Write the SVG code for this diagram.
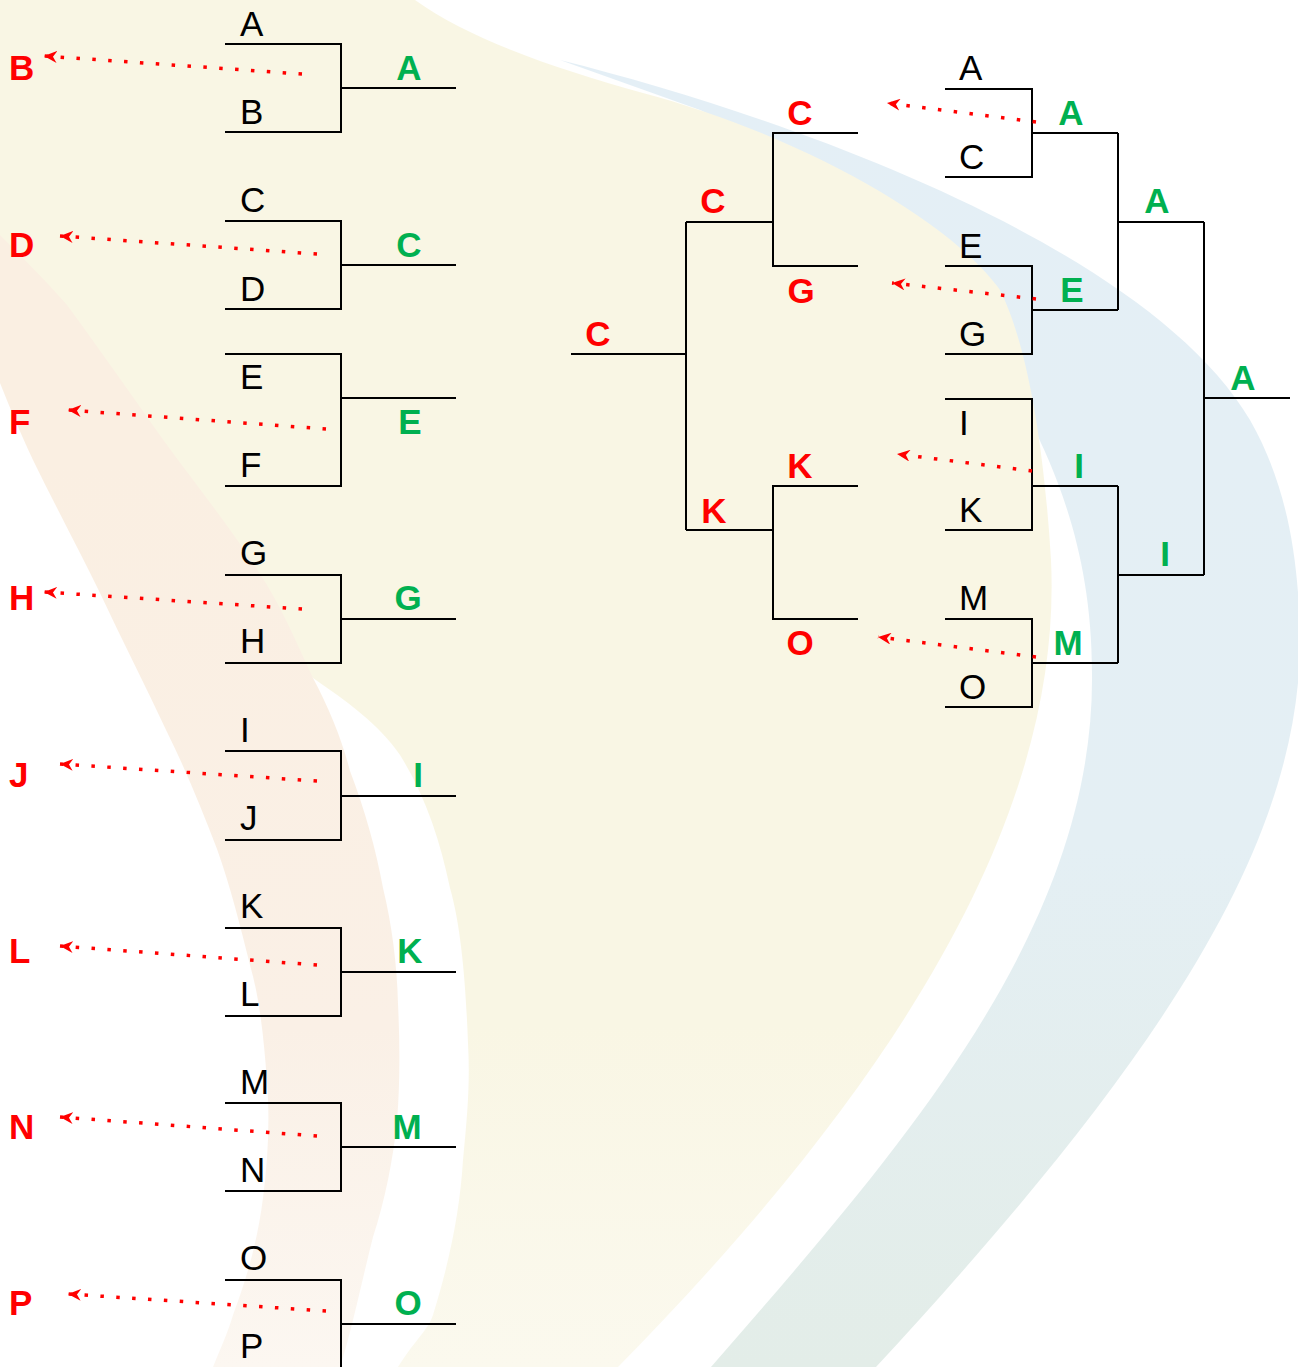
<svg xmlns="http://www.w3.org/2000/svg" width="1298" height="1367" viewBox="0 0 1298 1367">
<style>
.ln{stroke:#000;stroke-width:2;fill:none}
.bk{font-family:"Liberation Sans",Arial,sans-serif;font-size:35px;fill:#000}
.gr{font-family:"Liberation Sans",Arial,sans-serif;font-size:35px;font-weight:bold;fill:#00B050;text-anchor:middle}
.rd{font-family:"Liberation Sans",Arial,sans-serif;font-size:35px;font-weight:bold;fill:#FF0000}
.rdm{font-family:"Liberation Sans",Arial,sans-serif;font-size:35px;font-weight:bold;fill:#FF0000;text-anchor:middle}
.ar{stroke:#FF0000;stroke-width:3.5;stroke-dasharray:3.5 12.4;fill:none;marker-end:url(#ah)}
</style>
<defs>
<marker id="ah" markerUnits="userSpaceOnUse" markerWidth="14" markerHeight="12" refX="13" refY="6" orient="auto">
<path d="M0,0 L13,6 L0,12 L4,6 Z" fill="#FF0000"/>
</marker>
<linearGradient id="gBlue" x1="0" y1="0" x2="0" y2="1">
<stop offset="0" stop-color="#E4EFF6"/>
<stop offset="0.6" stop-color="#E4EFF4"/>
<stop offset="1" stop-color="#E3EDE8"/>
</linearGradient>
<linearGradient id="gBeige" x1="0" y1="0" x2="0" y2="1">
<stop offset="0" stop-color="#F9F6E4"/>
<stop offset="0.75" stop-color="#F9F6E4"/>
<stop offset="1" stop-color="#FBF9EE"/>
</linearGradient>
<linearGradient id="gPeach" x1="0" y1="0" x2="0" y2="1">
<stop offset="0.2" stop-color="#FAEFE2"/>
<stop offset="0.7" stop-color="#FAF0E6"/>
<stop offset="1" stop-color="#FCF7F1"/>
</linearGradient>
</defs>
<rect width="1298" height="1367" fill="#FFFFFF"/>
<g id="background">
<path d="M560,60 C800,120 1150,250 1250,420 C1290,490 1300,570 1300,650 C1295,850 1160,1060 876,1367 L711,1367 C900,1150 1095,930 1092,673 C1092,560 1060,480 1030,420 C1000,330 900,200 700,110 Z" fill="url(#gBlue)"/>
<path d="M0,0 L415,0 C470,40 560,70 643,93 C800,135 950,220 1000,290 C1030,350 1045,460 1051,560 C1062,790 930,1050 618,1367 L398,1367 C415,1340 428,1330 433,1315 C450,1260 460,1210 463,1160 C468,1110 470,1080 468,1043 C466,990 462,930 450,888 C440,840 425,795 400,755 C380,725 345,700 313,678 L0,300 Z" fill="url(#gBeige)"/>
<path d="M0,235 C20,255 45,280 67,305 C100,350 135,400 167,445 C200,490 240,540 267,585 C285,615 300,650 313,678 C330,710 342,740 350,771 C365,810 376,850 383,888 C392,925 397,965 398,1004 C400,1045 400,1085 397,1121 C393,1160 385,1200 373,1237 C362,1280 352,1330 340,1367 L213,1367 C220,1350 228,1332 233,1315 C248,1275 258,1238 263,1198 C268,1160 270,1120 267,1082 C264,1040 260,1000 250,965 C240,925 230,885 217,849 C202,810 186,770 167,732 C145,685 122,640 100,593 C78,548 55,505 33,460 C20,432 10,408 0,383 Z" fill="url(#gPeach)"/>
</g>
<g id="round1-left">
<g id="m-AB"><path class="ln" d="M225,44 H341 V132 H225 M341,88 H456"/><text class="bk" x="240" y="35.5">A</text><text class="bk" x="240" y="124">B</text><text class="gr" x="409" y="80">A</text><text class="rd" x="9" y="80">B</text></g>
<g id="m-CD"><path class="ln" d="M225,221 H341 V309 H225 M341,265 H456"/><text class="bk" x="240" y="212">C</text><text class="bk" x="240" y="301">D</text><text class="gr" x="409" y="256.5">C</text><text class="rd" x="9" y="256.5">D</text></g>
<g id="m-EF"><path class="ln" d="M225,354 H341 V486 H225 M341,398 H456"/><text class="bk" x="240" y="389">E</text><text class="bk" x="240" y="477">F</text><text class="gr" x="410" y="433.5">E</text><text class="rd" x="9" y="433.5">F</text></g>
<g id="m-GH"><path class="ln" d="M225,575 H341 V663 H225 M341,619 H456"/><text class="bk" x="240" y="565">G</text><text class="bk" x="240" y="653">H</text><text class="gr" x="408" y="610">G</text><text class="rd" x="9" y="610">H</text></g>
<g id="m-IJ"><path class="ln" d="M225,751 H341 V840 H225 M341,796 H456"/><text class="bk" x="240" y="742">I</text><text class="bk" x="240" y="830">J</text><text class="gr" x="418" y="786.5">I</text><text class="rd" x="9" y="786.5">J</text></g>
<g id="m-KL"><path class="ln" d="M225,928 H341 V1016 H225 M341,972 H456"/><text class="bk" x="240" y="918">K</text><text class="bk" x="240" y="1006">L</text><text class="gr" x="410" y="962.5">K</text><text class="rd" x="9" y="962.5">L</text></g>
<g id="m-MN"><path class="ln" d="M225,1103 H341 V1191 H225 M341,1147 H456"/><text class="bk" x="240" y="1094">M</text><text class="bk" x="240" y="1182">N</text><text class="gr" x="407" y="1138.5">M</text><text class="rd" x="9" y="1138.5">N</text></g>
<g id="m-OP"><path class="ln" d="M225,1280 H341 V1370 M341,1324 H456"/><text class="bk" x="240" y="1270">O</text><text class="bk" x="240" y="1358">P</text><text class="gr" x="408" y="1314.5">O</text><text class="rd" x="9" y="1314.5">P</text></g>
</g>
<g id="winners-bracket">
<g id="w-AC"><path class="ln" d="M945,89 H1032 V177 H945 M1032,133 H1118"/><text class="bk" x="959" y="79.5">A</text><text class="bk" x="959" y="168.5">C</text><text class="gr" x="1071" y="124.5">A</text></g>
<g id="w-EG"><path class="ln" d="M945,266 H1032 V354 H945 M1032,310 H1118"/><text class="bk" x="959" y="257.5">E</text><text class="bk" x="959" y="345.5">G</text><text class="gr" x="1072" y="301.5">E</text></g>
<g id="w-IK"><path class="ln" d="M945,399 H1032 V530 H945 M1032,486 H1118"/><text class="bk" x="959" y="434.5">I</text><text class="bk" x="959" y="521.5">K</text><text class="gr" x="1079" y="477.5">I</text></g>
<g id="w-MO"><path class="ln" d="M945,619 H1032 V707 H945 M1032,663 H1118"/><text class="bk" x="959" y="609.5">M</text><text class="bk" x="959" y="698.5">O</text><text class="gr" x="1068" y="654.5">M</text></g>
<g id="w-AE"><path class="ln" d="M1118,133 V310 M1118,222 H1204"/><text class="gr" x="1157" y="212.5">A</text></g>
<g id="w-IM"><path class="ln" d="M1118,486 V663 M1118,575 H1204"/><text class="gr" x="1165" y="565.5">I</text></g>
<g id="w-final"><path class="ln" d="M1204,222 V575 M1204,398 H1290"/><text class="gr" x="1243" y="389.5">A</text></g>
</g>
<g id="losers-bracket">
<g id="l-CG"><path class="ln" d="M858,133 H773 V266 H858 M773,222 H686"/><text class="rdm" x="800" y="124.5">C</text><text class="rdm" x="801" y="302.5">G</text><text class="rdm" x="713" y="212.5">C</text></g>
<g id="l-KO"><path class="ln" d="M858,486 H773 V619 H858 M773,530 H686"/><text class="rdm" x="800" y="477.5">K</text><text class="rdm" x="800" y="654.5">O</text><text class="rdm" x="714" y="522.5">K</text></g>
<g id="l-final"><path class="ln" d="M686,222 V530 M686,354 H571"/><text class="rdm" x="598" y="345.5">C</text></g>
</g>
<g id="connectors">
<path class="ar" d="M302,74 L44,56"/>
<path class="ar" d="M317,254 L60,236"/>
<path class="ar" d="M326,429 L68,410"/>
<path class="ar" d="M302,609 L44,592"/>
<path class="ar" d="M317,781 L60,764"/>
<path class="ar" d="M317,965 L60,946"/>
<path class="ar" d="M317,1136 L60,1117"/>
<path class="ar" d="M326,1311 L68,1294"/>
<path class="ar" d="M1036,122 L887,103"/>
<path class="ar" d="M1036,299 L892,283"/>
<path class="ar" d="M1032,471 L897,454"/>
<path class="ar" d="M1036,657 L878,637"/>
</g>
</svg>
